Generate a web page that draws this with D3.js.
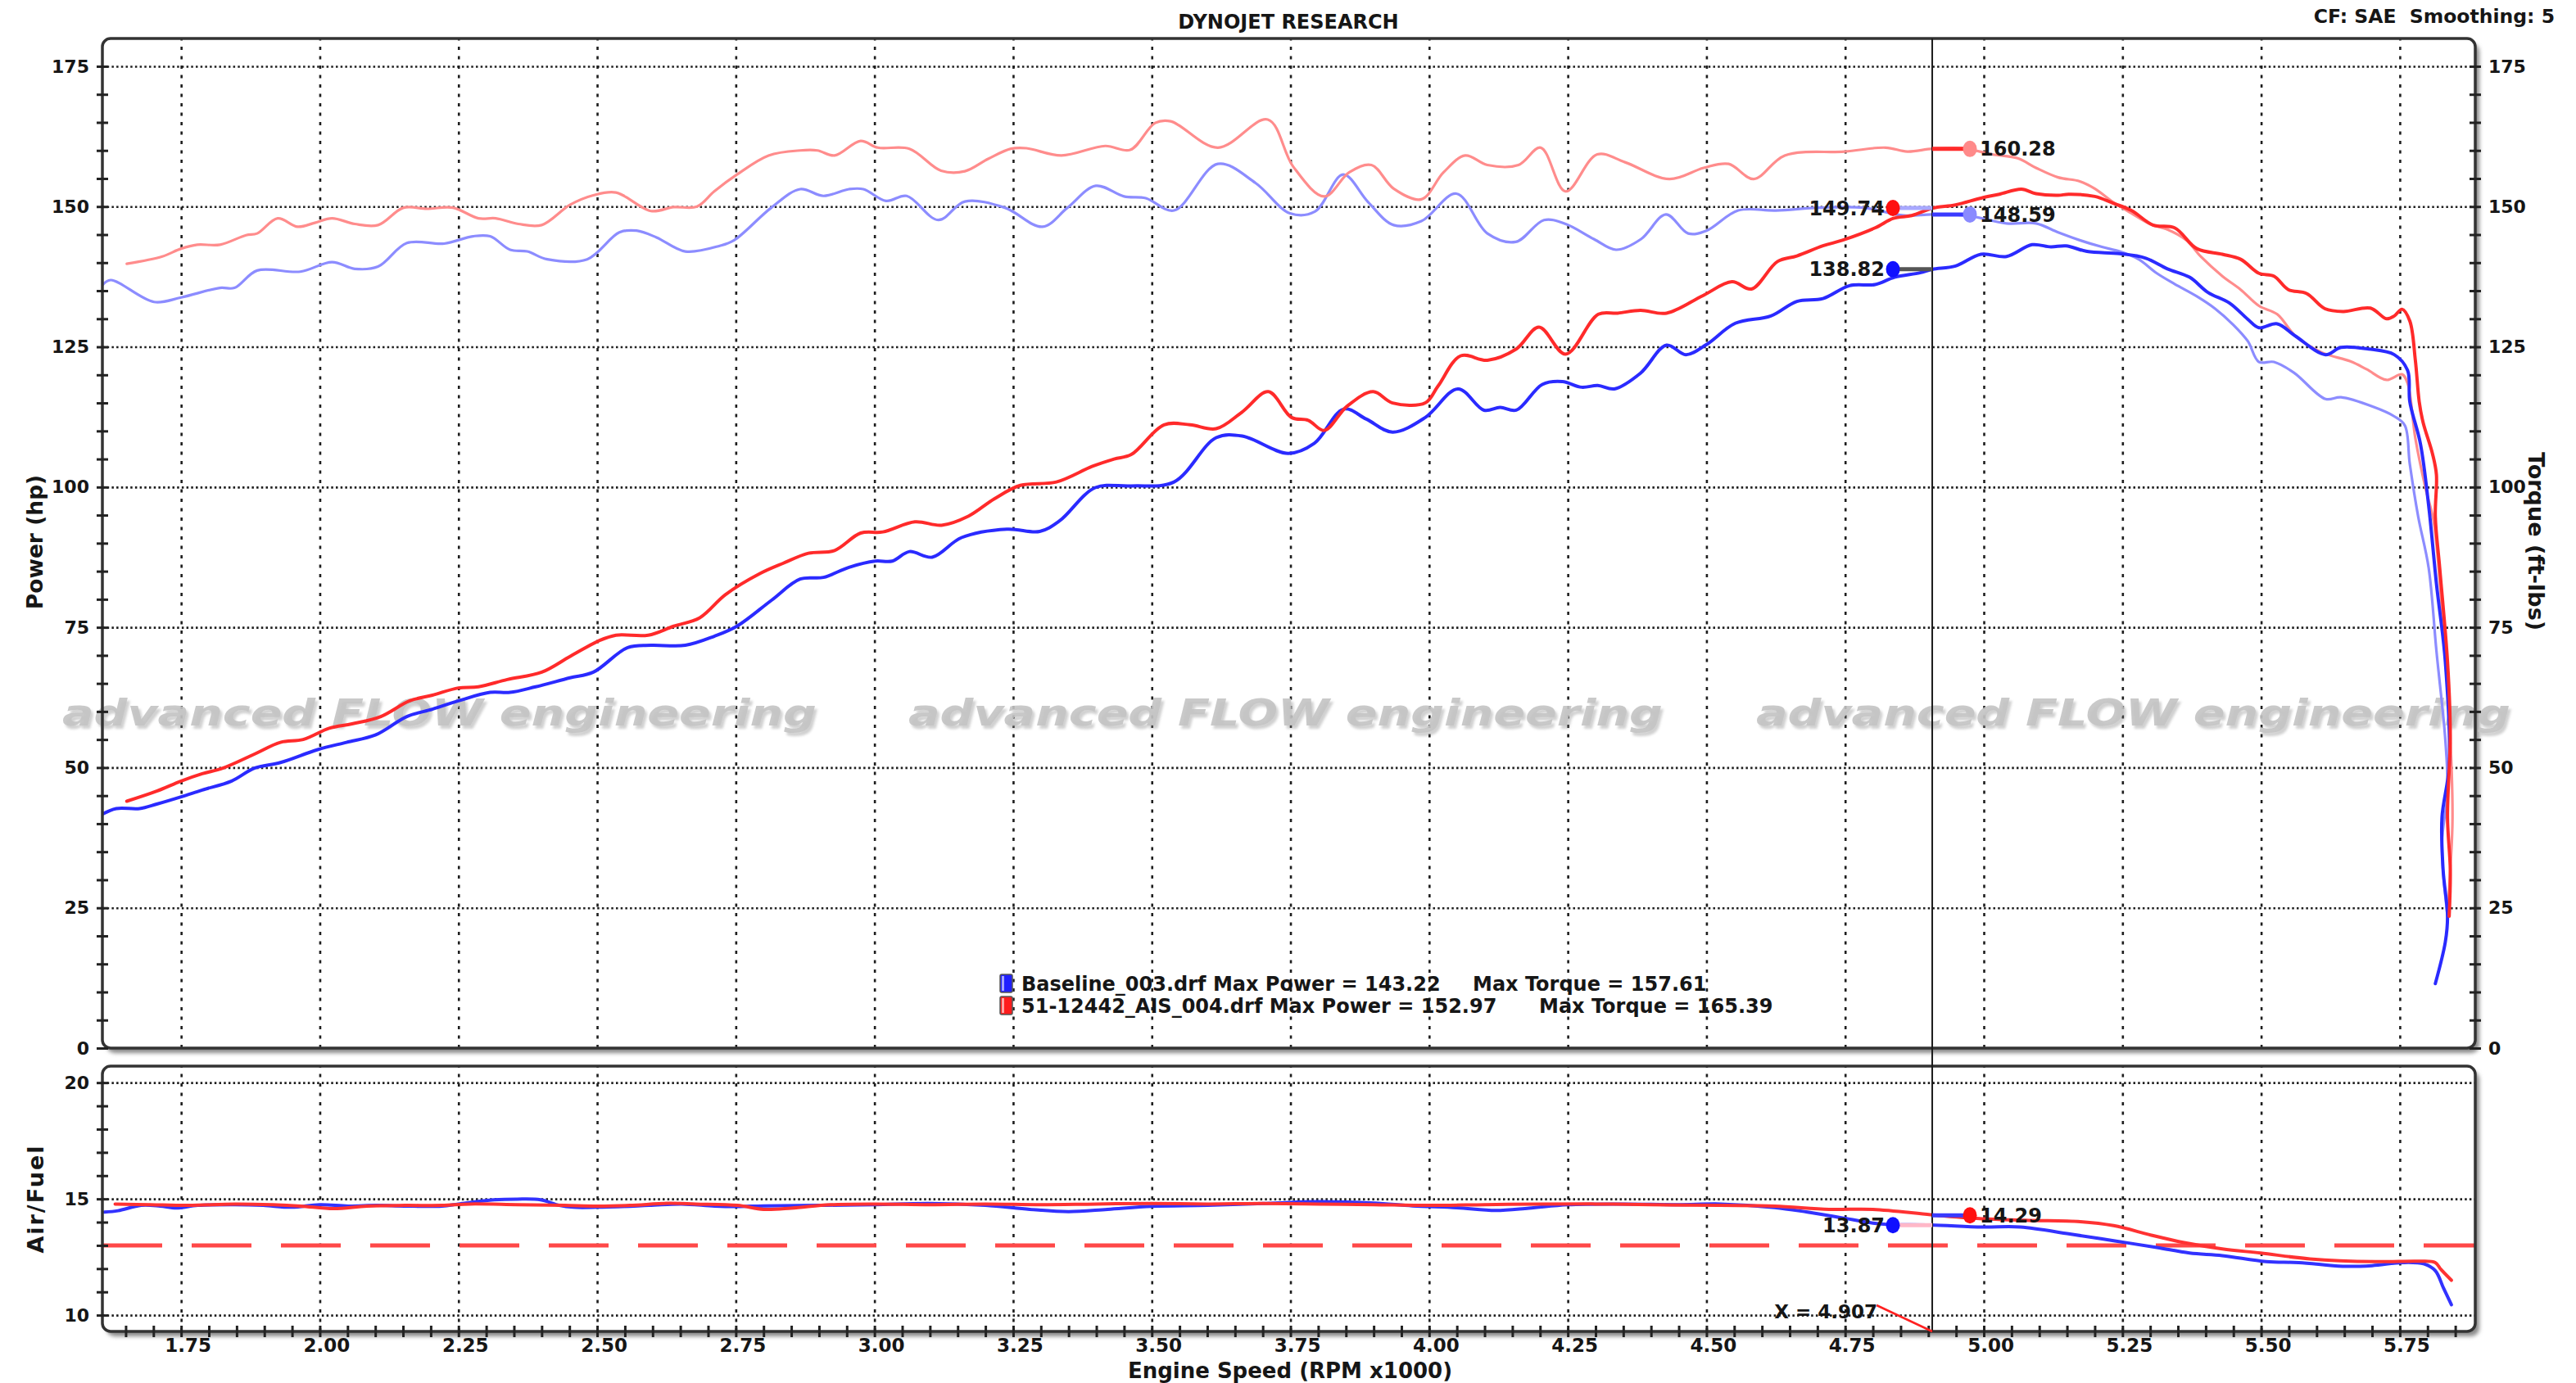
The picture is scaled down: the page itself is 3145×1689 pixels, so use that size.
<!DOCTYPE html>
<html><head><meta charset="utf-8">
<script src="https://cdn.jsdelivr.net/npm/d3@7"></script>
<style>
body{margin:0;background:#fff}
svg{display:block}
text{font-family:"DejaVu Sans",Verdana,sans-serif;font-weight:bold;fill:#161616}
</style>
</head><body>
<svg id="c" width="3145" height="1689"></svg>
<script>
// ---------------- DATA ----------------
const powerTickLabels = [0,25,50,75,100,125,150,175];
const afTickLabels = [10,15,20];
const rpmTickLabels = [1.75,2.00,2.25,2.50,2.75,3.00,3.25,3.50,3.75,4.00,4.25,4.50,4.75,5.00,5.25,5.50,5.75];
const legendNames = ["Baseline_003.drf", "51-12442_AIS_004.drf"];
const legendMaxPower = [143.22, 152.97];
const legendMaxTorque = [157.61, 165.39];
const cursorRpm = 4.907;
const cursorPower = [149.74, 138.82];   // AIS, Baseline
const cursorTorque = [160.28, 148.59];  // AIS, Baseline
const cursorAF = [13.87, 14.29];        // Baseline, AIS
const afTargetLine = 13.0;

// Baseline power (hp)
const basePowerRpm = [1.608,1.633,1.675,1.706,1.750,1.788,1.841,1.882,1.929,1.996,2.048,2.100,2.157,2.203,2.250,2.307,2.343,2.389,2.451,2.493,2.555,2.597,2.659,2.711,2.752,2.814,2.866,2.908,2.954,3.001,3.032,3.063,3.104,3.157,3.239,3.298,3.334,3.398,3.463,3.540,3.616,3.663,3.746,3.793,3.846,3.887,3.934,3.993,4.052,4.099,4.128,4.157,4.204,4.240,4.275,4.304,4.334,4.381,4.428,4.463,4.500,4.552,4.616,4.663,4.710,4.758,4.804,4.839,4.885,4.907,4.949,4.995,5.041,5.087,5.121,5.148,5.186,5.245,5.292,5.331,5.371,5.404,5.443,5.476,5.496,5.529,5.562,5.616,5.644,5.694,5.740,5.764,5.768,5.787,5.802,5.816,5.832,5.839,5.826,5.828,5.836,5.832,5.814];
const basePower    = [41.7,42.7,42.7,43.5,44.8,46.0,47.6,49.9,50.9,53.2,54.5,55.8,59.1,60.4,61.9,63.4,63.4,64.4,66.0,67.0,71.4,71.8,71.8,73.4,75.2,79.8,83.6,83.9,85.7,86.8,86.8,88.5,87.5,91.0,92.5,92.1,94.0,99.9,100.2,100.9,108.8,109.1,106.0,107.8,113.9,112.1,109.8,112.4,117.5,113.7,114.2,113.7,118.3,118.8,117.8,118.1,117.5,120.3,125.3,123.6,125.4,129.2,130.5,133.1,133.6,135.9,136.1,137.4,138.2,138.8,139.4,141.5,141.1,143.2,142.8,143.0,142.0,141.6,140.8,138.9,137.4,134.7,132.8,129.9,128.4,129.1,126.9,123.6,124.9,124.6,123.6,120.8,115.2,107.8,96.7,82.8,68.9,50.4,41.1,31.8,23.5,18.9,11.5];

// AIS power (hp)
const aisPowerRpm = [1.652,1.706,1.750,1.788,1.825,1.882,1.929,1.970,2.017,2.058,2.110,2.162,2.203,2.250,2.286,2.338,2.400,2.451,2.503,2.534,2.592,2.638,2.685,2.731,2.794,2.835,2.881,2.928,2.975,3.015,3.073,3.121,3.169,3.216,3.263,3.328,3.393,3.432,3.463,3.522,3.569,3.616,3.663,3.710,3.752,3.782,3.811,3.852,3.899,3.934,3.993,4.016,4.057,4.105,4.157,4.198,4.246,4.305,4.340,4.381,4.428,4.493,4.546,4.581,4.628,4.663,4.710,4.745,4.804,4.837,4.870,4.907,4.949,4.995,5.028,5.068,5.094,5.134,5.153,5.200,5.233,5.266,5.305,5.344,5.384,5.430,5.463,5.496,5.523,5.549,5.582,5.615,5.648,5.697,5.726,5.740,5.754,5.768,5.778,5.785,5.792,5.809,5.816,5.814,5.822,5.836,5.841,5.836,5.841,5.839];
const aisPower    = [44.0,45.8,47.6,48.9,49.9,52.4,54.5,55.0,57.0,57.8,59.1,61.9,62.9,64.2,64.4,65.7,67.0,69.8,72.6,73.6,73.6,75.2,76.7,80.8,84.6,86.4,88.2,88.7,91.8,92.0,93.8,93.2,94.8,97.9,100.3,100.9,103.7,105.0,105.8,111.1,111.1,110.4,113.4,117.0,112.4,111.9,110.1,114.4,117.0,115.0,115.0,118.0,123.4,122.6,124.6,128.5,123.7,130.8,131.0,131.5,131.0,134.1,136.6,135.3,140.2,141.2,143.0,144.0,146.2,147.9,148.4,149.7,150.3,151.5,152.2,153.1,152.3,152.0,152.2,151.8,150.6,149.3,146.7,146.2,142.5,141.5,140.6,138.1,137.6,135.2,134.5,131.8,131.3,131.9,130.0,130.5,131.7,129.6,122.6,115.2,111.5,105.9,102.2,94.8,85.5,68.9,55.9,41.1,31.8,23.5];

// Baseline torque (ft-lbs)
const baseTorqueRpm = [1.608,1.623,1.701,1.750,1.820,1.846,1.887,1.965,2.022,2.063,2.105,2.157,2.224,2.276,2.307,2.343,2.374,2.410,2.482,2.540,2.571,2.607,2.659,2.721,2.747,2.814,2.866,2.908,2.954,2.980,3.021,3.058,3.115,3.163,3.235,3.303,3.348,3.399,3.450,3.489,3.540,3.619,3.687,3.749,3.794,3.845,3.890,3.936,3.986,4.049,4.105,4.156,4.207,4.246,4.297,4.337,4.382,4.427,4.467,4.500,4.557,4.625,4.704,4.783,4.856,4.907,4.969,5.041,5.094,5.134,5.173,5.213,5.245,5.279,5.312,5.344,5.384,5.417,5.450,5.476,5.496,5.523,5.559,5.616,5.644,5.702,5.740,5.759,5.768,5.783,5.802,5.816,5.832,5.836,5.826,5.836];
const baseTorque    = [136.0,136.9,133.0,133.8,135.5,135.5,138.6,138.4,140.1,138.9,139.3,143.5,143.4,144.7,144.7,142.3,142.0,140.6,140.6,145.4,145.7,144.5,142.0,143.0,144.0,149.8,153.1,151.9,153.1,153.1,151.0,151.9,147.6,150.9,149.8,146.4,149.8,153.7,151.8,151.5,149.3,157.6,154.2,148.8,149.1,155.7,150.8,146.7,147.4,152.3,145.2,143.7,147.6,146.9,144.2,142.3,144.2,148.6,145.2,145.7,149.3,149.3,149.8,149.8,148.4,148.6,148.4,147.0,147.0,145.4,144.0,142.8,142.0,140.6,138.1,136.2,134.0,131.8,128.9,126.0,122.3,122.3,120.4,115.7,116.0,114.3,112.6,111.0,104.1,94.8,85.6,70.8,55.0,45.7,36.5,23.5];

// AIS torque (ft-lbs)
const aisTorqueRpm = [1.652,1.716,1.750,1.779,1.820,1.867,1.887,1.924,1.960,1.991,2.022,2.063,2.105,2.151,2.193,2.240,2.286,2.317,2.358,2.400,2.451,2.493,2.534,2.597,2.638,2.680,2.711,2.752,2.809,2.866,2.897,2.928,2.975,3.006,3.063,3.120,3.163,3.205,3.246,3.274,3.337,3.416,3.461,3.506,3.534,3.619,3.709,3.755,3.811,3.856,3.896,3.936,3.986,4.026,4.065,4.105,4.161,4.201,4.246,4.303,4.353,4.433,4.495,4.540,4.585,4.641,4.749,4.823,4.862,4.907,4.962,5.015,5.061,5.094,5.134,5.173,5.200,5.233,5.266,5.299,5.331,5.365,5.391,5.430,5.463,5.496,5.529,5.562,5.609,5.661,5.690,5.726,5.754,5.764,5.778,5.797,5.811,5.826,5.839,5.845,5.841,5.836];
const aisTorque    = [139.8,141.1,142.5,143.2,143.2,144.9,145.2,147.9,146.4,147.1,147.9,146.9,146.7,149.8,149.6,149.8,147.9,147.9,146.9,146.7,150.3,152.0,152.5,149.2,149.9,150.0,152.7,155.7,159.1,160.0,160.0,159.1,161.7,160.5,160.3,156.4,156.3,158.5,160.3,160.4,159.1,160.8,160.1,164.9,165.2,160.5,165.5,157.1,151.8,156.1,157.4,153.2,151.3,156.1,159.1,157.4,157.4,160.5,152.7,159.3,157.9,154.9,156.9,157.6,154.9,159.1,159.8,160.5,159.8,160.3,160.4,159.3,158.6,156.9,155.2,154.5,153.2,150.8,148.8,146.9,145.9,144.0,141.1,137.6,135.2,132.3,130.8,126.9,124.0,122.4,121.0,119.1,120.1,118.5,108.7,99.5,93.9,78.1,59.6,41.1,31.8,23.5];

// Air/Fuel
const baseAFRpm = [1.612,1.636,1.678,1.712,1.741,1.780,1.847,1.898,1.949,2.000,2.051,2.102,2.153,2.220,2.250,2.314,2.356,2.398,2.432,2.457,2.500,2.593,2.652,2.712,2.753,2.800,2.900,3.000,3.100,3.200,3.280,3.350,3.420,3.500,3.600,3.700,3.800,3.900,3.970,4.050,4.120,4.180,4.250,4.350,4.450,4.525,4.623,4.682,4.741,4.800,4.830,4.904,4.997,5.066,5.155,5.234,5.312,5.371,5.430,5.509,5.568,5.647,5.700,5.755,5.794,5.814,5.829,5.843];
const baseAF    = [14.43,14.49,14.72,14.69,14.61,14.72,14.75,14.72,14.64,14.75,14.69,14.72,14.69,14.69,14.78,14.96,14.99,14.96,14.72,14.64,14.64,14.72,14.78,14.69,14.67,14.70,14.72,14.75,14.80,14.72,14.55,14.45,14.55,14.68,14.72,14.80,14.88,14.82,14.70,14.62,14.50,14.60,14.75,14.78,14.75,14.78,14.63,14.43,14.20,13.96,13.90,13.88,13.79,13.79,13.49,13.20,12.91,12.67,12.56,12.30,12.26,12.10,12.13,12.26,12.20,11.91,11.15,10.45];
const aisAFRpm = [1.631,1.695,1.763,1.847,1.915,1.966,2.025,2.085,2.153,2.220,2.271,2.356,2.441,2.500,2.559,2.627,2.678,2.753,2.800,2.850,2.920,3.000,3.100,3.200,3.300,3.400,3.500,3.600,3.700,3.800,3.900,4.000,4.100,4.200,4.300,4.400,4.525,4.623,4.721,4.800,4.904,4.972,5.075,5.174,5.234,5.302,5.361,5.430,5.499,5.588,5.706,5.784,5.814,5.824,5.843];
const aisAF    = [14.78,14.75,14.72,14.78,14.75,14.69,14.58,14.69,14.72,14.72,14.78,14.75,14.72,14.69,14.72,14.81,14.78,14.72,14.55,14.60,14.75,14.78,14.75,14.78,14.75,14.78,14.80,14.78,14.80,14.78,14.75,14.72,14.75,14.78,14.78,14.75,14.72,14.69,14.55,14.55,14.32,14.18,14.08,14.02,13.85,13.44,13.12,12.85,12.67,12.42,12.30,12.32,12.26,11.97,11.50];

// ---------------- DRAW ----------------
const svg = d3.select("#c");
const L = 125, R = 3022, T1 = 47, B1 = 1280, T2 = 1302, B2 = 1626;
const x = d3.scaleLinear().domain([1.608, 5.886]).range([L, R]);
const yTop = d3.scaleLinear().domain([0, 180]).range([B1, 46.7]);
const yAF = d3.scaleLinear().domain([9.3, 20.71]).range([B2, T2]);

const defs = svg.append("defs");
defs.append("filter").attr("id","blur").append("feGaussianBlur").attr("stdDeviation",2.5);
defs.append("filter").attr("id","soft").append("feGaussianBlur").attr("stdDeviation",0.6);
defs.append("filter").attr("id","wmblur").append("feGaussianBlur").attr("stdDeviation",1.5);
defs.append("clipPath").attr("id","clipTop").append("rect").attr("x",L).attr("y",T1).attr("width",R-L).attr("height",B1-T1);
defs.append("clipPath").attr("id","clipAF").append("rect").attr("x",L).attr("y",T2).attr("width",R-L).attr("height",B2-T2);

// panels with shadows
[[T1,B1],[T2,B2]].forEach(([t,b])=>{
  svg.append("rect").attr("x",L+5).attr("y",t+6).attr("width",R-L).attr("height",b-t)
     .attr("rx",10).attr("fill","#8a8a8a").attr("filter","url(#blur)");
  svg.append("rect").attr("x",L).attr("y",t).attr("width",R-L).attr("height",b-t)
     .attr("rx",10).attr("fill","#fff");
});

// gridlines (via axes)
function hGrid(scale, vals){
  const g = svg.append("g").attr("transform",`translate(${L},0)`)
    .call(d3.axisLeft(scale).tickValues(vals).tickSize(-(R-L)).tickFormat(""));
  g.select(".domain").remove();
  g.selectAll(".tick line").attr("stroke","#1e1e1e").attr("stroke-width",2.6).attr("stroke-dasharray","2.5,3.2");
}
function vGrid(top, bottom){
  const g = svg.append("g").attr("transform",`translate(0,${bottom})`)
    .call(d3.axisBottom(x).tickValues(rpmTickLabels).tickSize(-(bottom-top)).tickFormat(""));
  g.select(".domain").remove();
  g.selectAll(".tick line").attr("stroke","#1e1e1e").attr("stroke-width",2.6).attr("stroke-dasharray","4,7.5");
}
hGrid(yTop, powerTickLabels.filter(d=>d>0));
vGrid(T1, B1);
hGrid(yAF, afTickLabels);
vGrid(T2, B2);

// watermark
const wmStarts = [76, 1109, 2144];
wmStarts.forEach(s=>{
  svg.append("text").attr("x",s+3).attr("y",890).attr("textLength",921).attr("lengthAdjust","spacingAndGlyphs")
    .style("font-size","44px").style("font-style","italic").style("fill","#7a7a7a").style("opacity",0.35)
    .attr("filter","url(#wmblur)").text("advanced FLOW engineering");
  svg.append("text").attr("x",s).attr("y",886).attr("textLength",921).attr("lengthAdjust","spacingAndGlyphs")
    .style("font-size","44px").style("font-style","italic").style("fill","#c4c4c4").style("opacity",0.9)
    .text("advanced FLOW engineering");
});

// AF target dashed line
svg.append("line").attr("x1",L).attr("x2",R).attr("y1",yAF(afTargetLine)).attr("y2",yAF(afTargetLine))
  .attr("stroke","#ff4848").attr("stroke-width",5).attr("stroke-dasharray","73,36");

// curves
function drawCurve(rpms, vals, yScale, color, width, clip){
  const line = d3.line().x(d=>x(d[0])).y(d=>yScale(d[1])).curve(d3.curveCatmullRom.alpha(0.5));
  svg.append("path").datum(d3.zip(rpms, vals)).attr("d", line)
    .attr("fill","none").attr("stroke",color).attr("stroke-width",width)
    .attr("stroke-linejoin","round").attr("stroke-linecap","round")
    .attr("clip-path",`url(#${clip})`).attr("filter","url(#soft)");
}
drawCurve(baseTorqueRpm, baseTorque, yTop, "#8c8cff", 3.2, "clipTop");
drawCurve(aisTorqueRpm, aisTorque, yTop, "#ff8c8c", 3.2, "clipTop");
drawCurve(basePowerRpm, basePower, yTop, "#2b2bff", 4, "clipTop");
drawCurve(aisPowerRpm, aisPower, yTop, "#ff2b2b", 4, "clipTop");
drawCurve(baseAFRpm, baseAF, yAF, "#3030ff", 4, "clipAF");
drawCurve(aisAFRpm, aisAF, yAF, "#ff3333", 4, "clipAF");

// panel borders
[[T1,B1],[T2,B2]].forEach(([t,b])=>{
  svg.append("rect").attr("x",L).attr("y",t).attr("width",R-L).attr("height",b-t)
     .attr("rx",10).attr("fill","none").attr("stroke","#333").attr("stroke-width",3.5);
});

// axes with cross ticks
function styleAxis(g, horizontal, fs){
  g.select(".domain").remove();
  g.selectAll(".tick line").attr("stroke","#222").attr("stroke-width",3);
  if(horizontal) g.selectAll(".tick line").attr("y1",-7).attr("y2",7);
  else g.selectAll(".tick line").attr("x1",-7).attr("x2",7);
  g.selectAll("text").attr("font-family",null).attr("font-size",null).attr("fill",null).style("font-size",fs+"px");
}
const minorPower = d3.range(0, 176, 5);
const gL = svg.append("g").attr("transform",`translate(${L},0)`)
  .call(d3.axisLeft(yTop).tickValues(minorPower).tickSize(7).tickPadding(9).tickFormat(d=> d%25===0 ? d : ""));
styleAxis(gL,false,22);
const gR = svg.append("g").attr("transform",`translate(${R},0)`)
  .call(d3.axisRight(yTop).tickValues(minorPower).tickSize(7).tickPadding(9).tickFormat(d=> d%25===0 ? d : ""));
styleAxis(gR,false,22);
const gAF = svg.append("g").attr("transform",`translate(${L},0)`)
  .call(d3.axisLeft(yAF).tickValues(d3.range(10,21,1)).tickSize(7).tickPadding(9).tickFormat(d=> afTickLabels.includes(d) ? d : ""));
styleAxis(gAF,false,22);
const minorRpm = d3.range(1.65, 5.86, 0.05).map(v=>Math.round(v*100)/100);
const gX = svg.append("g").attr("transform",`translate(0,${B2})`)
  .call(d3.axisBottom(x).tickValues(minorRpm).tickSize(7).tickPadding(2)
  .tickFormat(d=> rpmTickLabels.some(t=>Math.abs(t-d)<1e-6) ? d3.format(".2f")(d) : ""));
styleAxis(gX,true,23);
gX.selectAll("text").attr("dx", 8);

// cursor line
const cx = x(cursorRpm);
svg.append("line").attr("x1",cx).attr("x2",cx).attr("y1",T1).attr("y2",B2).attr("stroke","#1a1a1a").attr("stroke-width",2);

// cursor annotations
const leftDX = -48, rightDX = 46;
function marker(yv, dx, dotColor, leadColor, label, side){
  const px = cx + dx;
  svg.append("line").attr("x1",cx).attr("x2",px).attr("y1",yv).attr("y2",yv).attr("stroke",leadColor).attr("stroke-width",5);
  svg.append("ellipse").attr("cx",px).attr("cy",yv).attr("rx",8.5).attr("ry",10).attr("fill",dotColor);
  svg.append("text").attr("x", side==="left" ? px-10 : px+12).attr("y",yv).attr("dy","0.36em")
    .attr("text-anchor", side==="left" ? "end" : "start").style("font-size","24px").text(label);
}
marker(yTop(cursorTorque[0]), rightDX, "#ff8a8a", "#ff2b2b", d3.format(".2f")(cursorTorque[0]), "right");
marker(yTop(cursorTorque[1]), rightDX, "#8a8aff", "#3a3aff", d3.format(".2f")(cursorTorque[1]), "right");
marker(yTop(cursorPower[0]), leftDX, "#ff1010", "#a8a8ff", d3.format(".2f")(cursorPower[0]), "left");
marker(yTop(cursorPower[1]), leftDX, "#1010ff", "#555", d3.format(".2f")(cursorPower[1]), "left");
marker(yAF(cursorAF[0]), leftDX, "#1010ff", "#ffb8c8", d3.format(".2f")(cursorAF[0]), "left");
marker(yAF(cursorAF[1]), rightDX, "#ff1010", "#3a3aff", d3.format(".2f")(cursorAF[1]), "right");

// X = label with red leader
svg.append("line").attr("x1",2291).attr("y1",1594).attr("x2",cx).attr("y2",B2).attr("stroke","#ff2020").attr("stroke-width",2.5);
svg.append("text").attr("x",2292).attr("y",1602).attr("dy","0.36em").attr("text-anchor","end").style("font-size","23px")
  .text("X = " + d3.format(".3f")(cursorRpm));

// legend
const legColors = ["#2020ff","#ff1c1c"];
const legY = [1201, 1228];
const torqueX = [1798, 1879];
legendNames.forEach((n,i)=>{
  svg.append("rect").attr("x",1221).attr("y",legY[i]-11).attr("width",15).attr("height",22).attr("rx",2)
    .attr("fill",legColors[i]).attr("stroke","#555").attr("stroke-width",1.5);
  svg.append("rect").attr("x",1223).attr("y",legY[i]-9).attr("width",3).attr("height",18).attr("fill","#fff").attr("opacity",0.6);
  svg.append("text").attr("x",1247).attr("y",legY[i]).attr("dy","0.36em").style("font-size","24px")
    .text(`${n} Max Power = ${d3.format(".2f")(legendMaxPower[i])}`);
  svg.append("text").attr("x",torqueX[i]).attr("y",legY[i]).attr("dy","0.36em").style("font-size","24px")
    .text(`Max Torque = ${d3.format(".2f")(legendMaxTorque[i])}`);
});

// titles
svg.append("text").attr("x",1573).attr("y",26).attr("dy","0.36em").attr("text-anchor","middle").style("font-size","24px").text("DYNOJET RESEARCH");
svg.append("text").attr("x",3119).attr("y",20).attr("dy","0.36em").attr("text-anchor","end").style("font-size","23.5px").attr("xml:space","preserve").text("CF: SAE  Smoothing: 5");
svg.append("text").attr("transform","translate(42,662) rotate(-90)").attr("dy","0.36em").attr("text-anchor","middle").style("font-size","26.5px").text("Power (hp)");
svg.append("text").attr("transform","translate(3097,661) rotate(90)").attr("dy","0.36em").attr("text-anchor","middle").style("font-size","27px").text("Torque (ft-lbs)");
svg.append("text").attr("transform","translate(43,1464) rotate(-90)").attr("dy","0.36em").attr("text-anchor","middle").style("font-size","27px").style("letter-spacing","2px").text("Air/Fuel");
svg.append("text").attr("x",1575).attr("y",1674).attr("dy","0.36em").attr("text-anchor","middle").style("font-size","26px").text("Engine Speed (RPM x1000)");
</script>
</body></html>
